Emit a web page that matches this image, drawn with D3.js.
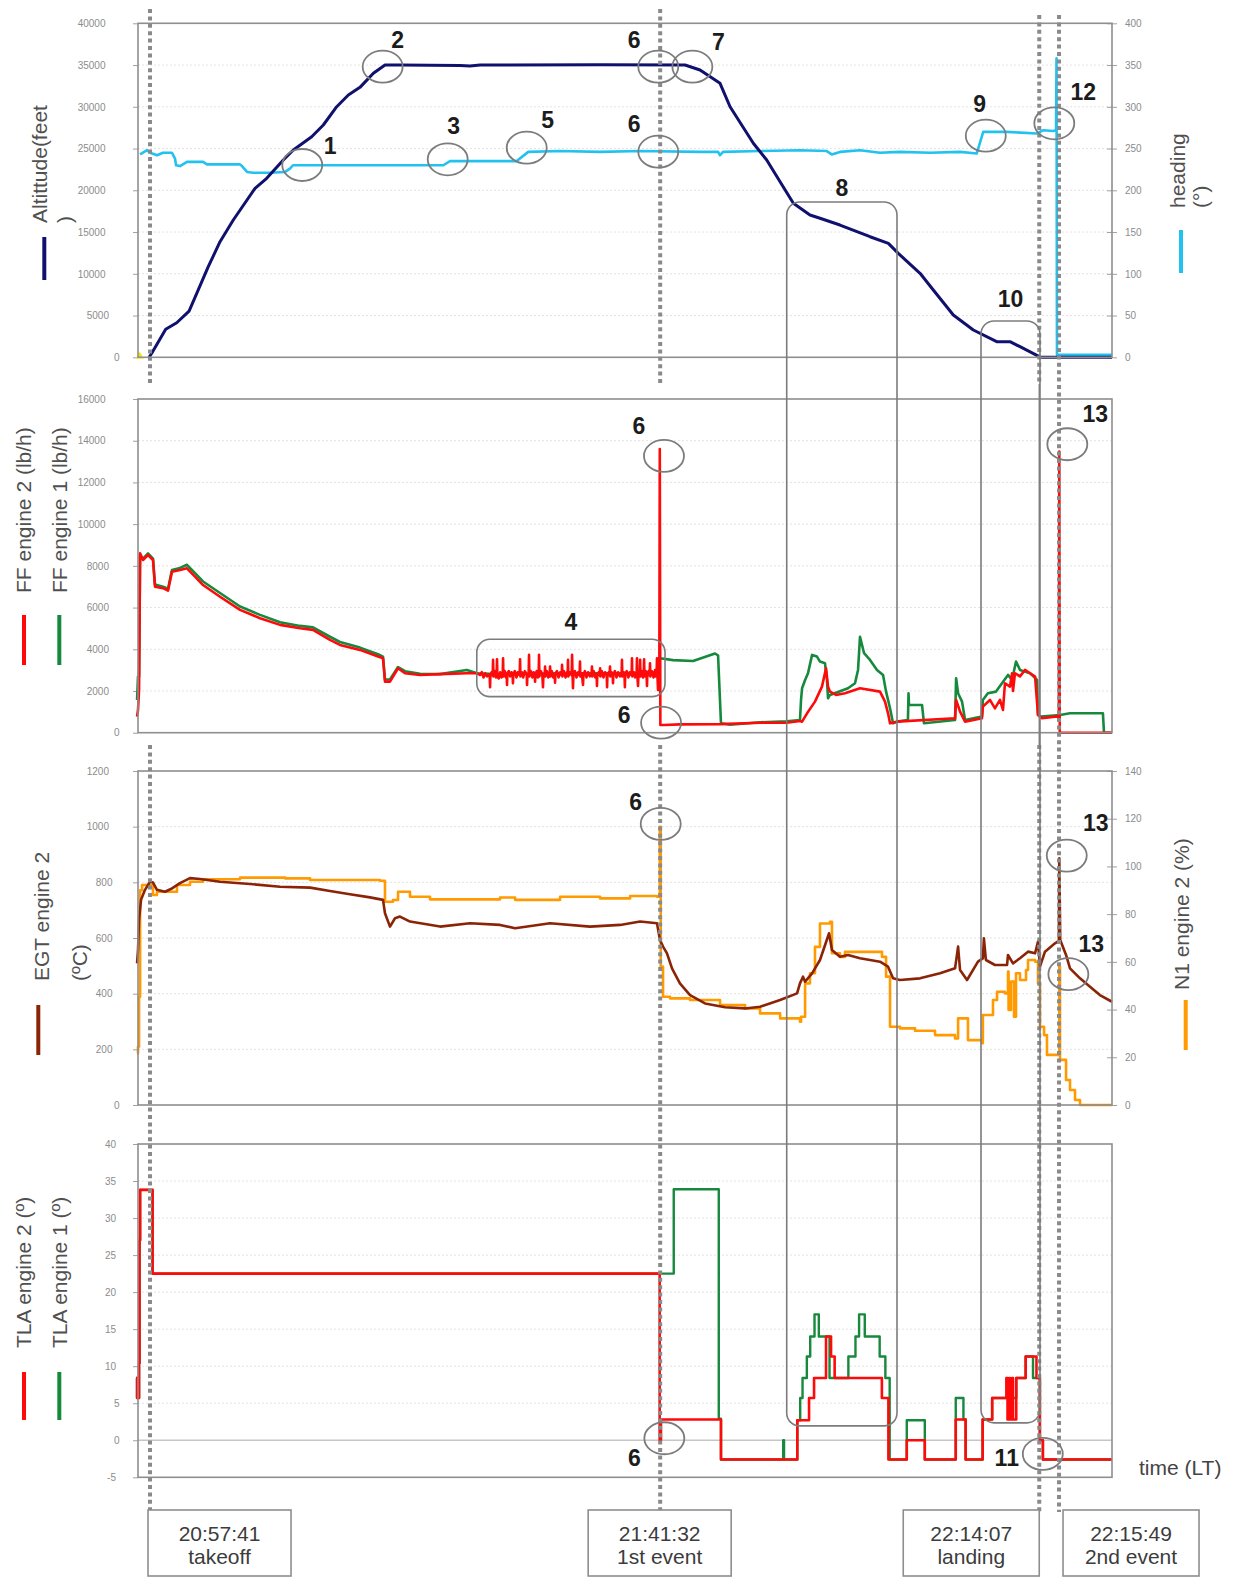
<!DOCTYPE html>
<html>
<head>
<meta charset="utf-8">
<script src="https://cdn.jsdelivr.net/npm/d3@7"></script>
<style>
  body { margin: 0; background: #fff; }
  svg { display: block; font-family: Arial, "Liberation Sans", sans-serif; }
</style>
</head>
<body>
<svg id="chart" width="1235" height="1578"></svg>
<script>
// time values are minutes after 20:56:00 (LT)

const events = [
  { time: "20:57:41", label: "takeoff", box: "left" },
  { time: "21:41:32", label: "1st event", box: "center" },
  { time: "22:14:07", label: "landing", box: "right" },
  { time: "22:15:49", label: "2nd event", box: "after" }
];

const timeDomain = [0.65, 84.37];

const altitudeTicks = [0, 5000, 10000, 15000, 20000, 25000, 30000, 35000, 40000];
const headingTicks = [0, 50, 100, 150, 200, 250, 300, 350, 400];
const ffTicks = [0, 2000, 4000, 6000, 8000, 10000, 12000, 14000, 16000];
const egtTicks = [0, 200, 400, 600, 800, 1000, 1200];
const n1Ticks = [0, 20, 40, 60, 80, 100, 120, 140];
const tlaTicks = [-5, 0, 5, 10, 15, 20, 25, 30, 35, 40];

// altitude (feet)
const altitudeFt = [
  [1.60, 0], [1.83, 480], [3.03, 3350], [3.98, 4140], [5.04, 5540], [5.70, 7660],
  [6.69, 10850], [7.70, 13840], [8.84, 16440], [10.71, 20240], [11.71, 21440],
  [13.14, 23630], [14.00, 24830], [15.58, 26420], [16.58, 27820], [17.73, 30010],
  [18.73, 31410], [19.73, 32330], [20.88, 34010], [21.88, 35010], [23.17, 35000],
  [28.33, 34950], [29.19, 34880], [30.05, 35000], [40.37, 35050], [47.67, 35000],
  [48.96, 34410], [50.68, 32810], [51.54, 30010], [53.54, 25630], [54.69, 23630],
  [55.84, 21030], [56.98, 18440], [58.41, 17040], [59.27, 16650], [60.99, 15840],
  [63.57, 14440], [65.15, 13650], [66.00, 12450], [67.87, 10060], [69.01, 8060],
  [70.73, 5070], [72.45, 3270], [74.46, 1870], [75.60, 1870], [76.46, 1270],
  [78.04, 150], [78.18, 0], [84.37, 0]
];

// heading (deg)
const headingDeg = [
  [0.83, 243], [1.43, 248], [1.68, 245], [2.28, 242], [2.80, 245], [3.57, 245],
  [3.83, 238], [3.92, 230], [4.26, 229], [4.86, 234], [6.24, 234], [6.58, 231],
  [9.42, 231], [9.59, 229], [10.02, 222], [10.54, 221], [12.00, 221], [13.29, 222],
  [13.71, 226], [13.97, 230], [26.89, 230], [27.47, 235], [33.20, 235], [34.20, 246],
  [36.93, 247], [40.37, 246], [43.81, 247], [48.96, 246], [50.51, 246], [50.68, 242],
  [50.93, 246], [54.12, 247], [57.55, 248], [59.85, 247], [60.28, 243], [60.99, 246],
  [62.71, 248], [64.43, 245], [66.15, 246], [68.73, 245], [71.31, 246], [72.74, 244],
  [73.30, 270], [75.32, 270], [77.90, 268], [78.47, 272], [79.32, 271], [79.56, 272],
  [79.60, 358], [79.64, 3], [84.37, 3]
];

// fuel flow engine 2 (lb/h)
const ffEngine2 = [
  [0.57, 770], [0.65, 1090], [0.74, 2050], [0.83, 8600], [1.08, 8280], [1.51, 8520],
  [1.94, 8280], [2.11, 7000], [2.80, 6930], [3.23, 6810], [3.57, 7720], [4.26, 7800],
  [4.86, 7880], [5.55, 7480], [6.24, 7080], [7.70, 6520], [9.42, 5890], [11.14, 5490],
  [12.86, 5170], [14.58, 5010], [15.69, 4930], [17.15, 4450], [18.01, 4210],
  [19.73, 3970], [21.28, 3650], [21.71, 3570], [21.88, 2450], [22.31, 2450],
  [23.00, 3090], [23.60, 2850], [24.89, 2770], [26.61, 2810], [28.91, 2850], [29.79, 2850],
  // fluctuating cruise segment (callout 4)
  [30.05, 2770], [30.20, 2900], [30.35, 2650], [30.50, 2850], [30.65, 2700], [30.88, 2800],
  [30.91, 2180], [30.94, 2750], [31.05, 2900], [31.14, 2750], [31.17, 3490], [31.20, 2700],
  [31.32, 2950], [31.42, 2650], [31.48, 2850], [31.51, 3520], [31.54, 2700], [31.66, 2600],
  [31.78, 2900], [31.90, 2650], [32.00, 2850], [32.03, 3570], [32.06, 2700], [32.18, 2950],
  [32.28, 2650], [32.34, 2800], [32.37, 2290], [32.40, 2850], [32.52, 2950], [32.64, 2700],
  [32.76, 2900], [32.85, 2700], [32.88, 2370], [32.91, 2800], [33.04, 2950], [33.18, 2650],
  [33.30, 2900], [33.46, 2750], [33.49, 3520], [33.52, 2700], [33.64, 2900], [33.76, 2650],
  [33.90, 2950], [34.06, 2800], [34.09, 2290], [34.12, 2750], [34.23, 2850], [34.26, 3730],
  [34.29, 2700], [34.42, 2950], [34.55, 2650], [34.66, 2900], [34.75, 2750], [34.78, 2450],
  [34.81, 2800], [34.92, 2950], [35.02, 2650], [35.09, 2850], [35.12, 3730], [35.15, 2700],
  [35.28, 2950], [35.40, 2800], [35.46, 2180], [35.50, 2800], [35.61, 2750], [35.64, 3170],
  [35.67, 2700], [35.80, 2950], [35.92, 2650], [36.04, 2850], [36.07, 3170], [36.10, 2700],
  [36.22, 2950], [36.34, 2650], [36.47, 2800], [36.50, 2400], [36.53, 2850], [36.66, 2950],
  [36.80, 2650], [36.94, 2900], [37.07, 2750], [37.10, 3250], [37.13, 2700], [37.26, 2950],
  [37.40, 2650], [37.52, 2900], [37.58, 2750], [37.61, 3490], [37.64, 2700], [37.76, 2900],
  [37.93, 2750], [37.96, 3730], [38.00, 2800], [38.04, 2130], [38.08, 2850], [38.20, 2950],
  [38.34, 2650], [38.48, 2900], [38.61, 2750], [38.64, 3410], [38.67, 2700], [38.80, 2850],
  [38.90, 2290], [38.94, 2800], [39.06, 2950], [39.20, 2650], [39.34, 2900], [39.50, 2700],
  [39.64, 2850], [39.67, 3170], [39.70, 2700], [39.82, 2950], [39.96, 2650], [40.07, 2800],
  [40.10, 2240], [40.13, 2800], [40.26, 2900], [40.34, 2750], [40.37, 3090], [40.40, 2700],
  [40.52, 2950], [40.66, 2650], [40.80, 2900], [40.94, 2750], [40.97, 2180], [41.00, 2800],
  [41.12, 2900], [41.19, 2750], [41.22, 3170], [41.25, 2700], [41.36, 2900], [41.45, 2700],
  [41.48, 2370], [41.51, 2800], [41.64, 2950], [41.78, 2650], [41.92, 2900], [42.08, 2700],
  [42.22, 2850], [42.25, 3490], [42.28, 2700], [42.40, 2900], [42.47, 2750], [42.50, 2180],
  [42.53, 2800], [42.66, 2950], [42.80, 2650], [42.94, 2900], [43.08, 2750], [43.11, 3570],
  [43.14, 2700], [43.26, 2900], [43.38, 2650], [43.51, 2850], [43.54, 3570], [43.57, 2750],
  [43.63, 2240], [43.67, 2800], [43.78, 2750], [43.81, 3490], [43.84, 2700], [43.96, 2950],
  [44.06, 2650], [44.12, 2850], [44.15, 3520], [44.18, 2700], [44.30, 2950], [44.37, 2700],
  [44.40, 2240], [44.43, 2800], [44.54, 2950], [44.63, 2750], [44.66, 3330], [44.69, 2700],
  [44.82, 2950], [44.96, 2650], [45.06, 2850], [45.09, 3000], [45.12, 2700], [45.23, 2900],
  [45.26, 3570], [45.30, 2700], [45.35, 2050], [45.40, 2750], [45.46, 2700],
  [45.50, 13600], [45.55, 370], [45.86, 370], [47.23, 400], [50.68, 410], [54.12, 480],
  [56.41, 480], [57.55, 560], [57.73, 530], [58.16, 930], [58.84, 1490], [59.44, 2210],
  [59.79, 3090], [59.96, 2210], [60.13, 1970], [60.65, 1810], [61.42, 1890], [62.71, 2130],
  [64.43, 1970], [64.86, 1490], [65.12, 930], [65.29, 450], [65.89, 530], [70.88, 690],
  [70.97, 1570], [71.31, 1010], [71.74, 530], [73.19, 690], [73.27, 1250], [73.88, 1570],
  [74.31, 1170], [74.74, 1570], [75.00, 1090], [75.17, 2370], [75.60, 2210], [75.78, 2850],
  [75.86, 2000], [76.03, 2850], [76.46, 2700], [76.89, 3010], [77.33, 2850], [77.76, 2690],
  [78.01, 850], [78.35, 690], [79.47, 770], [79.80, 770], [79.84, 13480], [79.88, 0],
  [84.37, 0]
];

// fuel flow engine 1 (lb/h)
const ffEngine1 = [
  [0.57, 1570], [0.65, 2690], [0.74, 2690], [0.83, 8500], [1.08, 8350], [1.51, 8600],
  [1.94, 8350], [2.11, 7100], [2.80, 7000], [3.23, 6900], [3.57, 7800], [4.26, 7900],
  [4.86, 8050], [5.55, 7650], [6.24, 7250], [7.70, 6700], [9.42, 6050], [11.14, 5650],
  [12.86, 5300], [14.58, 5120], [15.69, 5050], [17.15, 4600], [18.01, 4350], [19.73, 4080],
  [21.28, 3760], [21.71, 3650], [21.88, 2550], [22.31, 2550], [23.00, 3150], [23.60, 2950],
  [24.89, 2830], [26.61, 2810], [28.91, 3010], [29.79, 2850], [31.77, 2800], [36.93, 2850],
  [42.09, 2850], [45.26, 2900], [45.52, 3570], [46.64, 3480], [48.36, 3440], [50.25, 3800],
  [50.51, 3700], [50.76, 450], [51.54, 380], [54.12, 500], [56.41, 550], [57.55, 610],
  [57.64, 1570], [57.73, 2130], [57.99, 2530], [58.24, 2850], [58.59, 3730], [59.01, 3650],
  [59.27, 3410], [59.70, 3330], [59.87, 2530], [59.96, 1650], [60.13, 1810], [61.68, 2130],
  [62.28, 2370], [62.54, 3010], [62.71, 4600], [63.06, 3810], [63.57, 3490], [64.17, 3010],
  [64.69, 2770], [64.95, 1970], [65.29, 1170], [65.55, 450], [65.89, 530], [66.83, 610],
  [66.88, 1890], [66.92, 1330], [68.04, 1330], [68.21, 450], [70.88, 610], [70.97, 2610],
  [71.14, 1890], [71.48, 1490], [71.74, 610], [73.19, 770], [73.27, 1570], [73.70, 1890],
  [74.40, 1970], [75.43, 2770], [75.78, 2530], [76.12, 3410], [76.46, 3010], [77.33, 2850],
  [77.93, 2530], [78.01, 850], [78.27, 770], [79.90, 850], [80.76, 930], [83.59, 930],
  [83.68, 0], [84.37, 0]
];

// EGT engine 2 (degC)
const egtEngine2 = [
  [0.57, 509], [0.65, 557], [0.74, 665], [0.91, 737], [1.25, 773], [1.68, 802], [1.94, 799],
  [2.28, 773], [2.97, 766], [3.57, 778], [4.26, 797], [5.12, 815], [5.98, 812], [7.70, 802],
  [10.28, 794], [12.86, 784], [15.44, 781], [17.15, 769], [18.87, 757], [20.59, 746],
  [21.71, 737], [21.88, 689], [22.31, 641], [22.74, 671], [23.17, 677], [24.03, 659],
  [26.61, 641], [29.19, 653], [31.77, 647], [33.06, 635], [36.07, 653], [39.50, 641],
  [42.09, 647], [43.81, 659], [45.26, 653], [45.52, 593], [45.78, 569], [46.12, 545],
  [46.55, 491], [47.23, 437], [48.10, 395], [49.39, 365], [51.11, 351], [52.83, 347],
  [54.12, 353], [55.84, 377], [57.30, 401], [57.55, 437], [57.81, 461], [57.99, 443],
  [58.59, 473], [59.27, 521], [60.05, 617], [60.30, 557], [60.99, 533], [61.68, 539],
  [62.71, 527], [64.43, 515], [65.12, 497], [65.55, 455], [66.15, 449], [67.87, 455],
  [69.59, 473], [70.88, 491], [71.14, 569], [71.31, 485], [71.91, 449], [72.85, 515],
  [73.27, 527], [73.36, 599], [73.53, 521], [74.31, 503], [75.35, 503], [75.43, 539],
  [75.86, 509], [76.46, 527], [77.15, 551], [77.76, 545], [78.01, 587], [78.18, 497],
  [78.27, 509], [78.61, 551], [79.47, 581], [79.80, 590], [79.84, 886], [79.92, 593],
  [80.42, 539], [80.76, 491], [81.62, 455], [82.48, 425], [83.33, 395], [84.37, 371]
];

// N1 engine 2 (%)
const n1Engine2 = [
  [0.57, 21.7], [0.65, 24.4], [0.74, 45.4], [0.83, 90], [1.00, 92.2], [1.68, 92.2],
  [1.94, 88], [2.28, 89.4], [3.40, 89.4], [4.00, 92.2], [5.12, 93.6], [6.24, 94.6],
  [9.42, 95.3], [13.29, 95], [15.44, 94.3], [21.45, 94], [21.88, 85.2], [22.57, 85.9],
  [23.00, 89.4], [24.03, 87.3], [25.75, 86.2], [31.77, 87], [33.06, 86], [36.93, 87.3],
  [40.37, 86.6], [42.95, 87.6], [45.26, 87.3], [45.50, 116.6], [45.58, 58], [45.78, 45.4],
  [46.38, 44.7], [48.10, 44], [50.68, 41.9], [52.83, 40.5], [54.12, 38.4], [55.84, 36.3],
  [57.55, 34.9], [57.64, 37], [57.99, 51], [58.41, 55.2], [58.84, 66.3], [59.27, 76.1],
  [60.13, 76.8], [60.30, 63.6], [60.99, 62.1], [61.42, 64.2], [64.00, 64.2], [64.60, 62.1],
  [64.95, 53.8], [65.29, 32.8], [66.15, 32.1], [67.44, 31.1], [69.16, 29.3], [70.88, 27.9],
  [71.14, 36.3], [71.82, 36.3], [71.99, 27.2], [73.19, 25.9], [73.27, 37.7], [74.14, 44],
  [74.49, 47.5], [75.17, 46.8], [75.43, 55.9], [75.48, 39.8], [75.69, 51.7], [75.95, 37],
  [76.12, 55.2], [76.46, 52.4], [76.98, 56.6], [77.15, 60.8], [77.76, 60.1], [78.01, 51],
  [78.18, 32.8], [78.53, 29.3], [78.78, 21], [79.80, 21], [79.84, 58], [79.90, 18.9],
  [80.42, 10.5], [80.76, 6.3], [81.19, 2.1], [81.62, 0], [84.37, 0]
];

// throttle lever angle (deg), each value holds until the next time
const tlaEngine2 = [
  [0.48, 8.4], [0.57, 5.7], [0.74, 10.4], [0.78, 27], [0.83, 33.8], [1.90, 22.5],
  [45.49, 0], [45.60, 2.8], [50.76, -2.6], [57.32, 2.7], [58.33, 5.7], [58.76, 8.4],
  [59.79, 14.0], [60.22, 11.3], [60.53, 8.4], [64.59, 5.7], [65.15, -2.6], [66.73, 0],
  [68.28, -2.6], [70.94, 2.8], [71.79, -2.6], [73.25, 2.8], [74.07, 5.7], [75.29, 8.4],
  [75.39, 2.8], [75.52, 8.4], [75.60, 2.8], [75.78, 8.4], [75.86, 2.8], [76.14, 8.4],
  [76.95, 11.3], [77.88, 8.4], [78.17, 0], [78.43, -2.6], [84.37, -2.6]
];

const tlaEngine1 = [
  [0.48, 8.4], [0.57, 5.7], [0.74, 10.4], [0.78, 27], [0.83, 33.8], [1.90, 22.5],
  [46.70, 33.9], [50.57, 2.9], [50.76, -2.6], [56.11, 0], [56.18, -2.6], [57.32, 2.7],
  [57.57, 5.7], [57.77, 8.4], [58.14, 11.3], [58.43, 14.0], [58.80, 17.0], [59.17, 14.0],
  [60.09, 8.4], [61.71, 11.3], [62.32, 14.0], [62.63, 17.0], [63.12, 14.0], [64.40, 11.3],
  [64.89, 8.4], [65.26, -2.6], [66.73, 2.7], [68.28, -2.6], [70.94, 5.7], [71.60, 2.8],
  [71.79, -2.6], [73.25, 2.8], [74.07, 5.7], [76.14, 8.4], [76.95, 11.3], [77.58, 8.4],
  [78.17, 0], [78.43, -2.6], [84.37, -2.6]
];

// numbered callouts: panel, time, value on that panel's left axis
const callouts = [
  { n: "1", panel: 0, t: 14.77, v: 23030, dx: 28, dy: -19 },
  { n: "2", panel: 0, t: 21.68, v: 34800, dx: 15, dy: -27 },
  { n: "3", panel: 0, t: 27.27, v: 23710, dx: 6, dy: -33 },
  { n: "5", panel: 0, t: 34.06, v: 25100, dx: 21, dy: -28 },
  { n: "6", panel: 0, t: 45.37, v: 34800, dx: -24, dy: -27 },
  { n: "7", panel: 0, t: 48.30, v: 34800, dx: 26, dy: -25 },
  { n: "6", panel: 0, t: 45.37, v: 24620, dx: -24, dy: -28 },
  { n: "9", panel: 0, t: 73.52, v: 26540, dx: -6, dy: -32 },
  { n: "12", panel: 0, t: 79.41, v: 28020, dx: 29, dy: -31 },
  { n: "6", panel: 1, t: 45.86, v: 13270, dx: -25, dy: -30 },
  { n: "6", panel: 1, t: 45.61, v: 480, dx: -37, dy: -8 },
  { n: "13", panel: 1, t: 80.53, v: 13830, dx: 28, dy: -30 },
  { n: "6", panel: 2, t: 45.58, v: 1010, dx: -25, dy: -22 },
  { n: "13", panel: 2, t: 80.48, v: 896, dx: 29, dy: -33 },
  { n: "13", panel: 2, t: 80.62, v: 470, dx: 23, dy: -30 },
  { n: "6", panel: 3, t: 45.89, v: 0.27, dx: -30, dy: 20 },
  { n: "11", panel: 3, t: 78.42, v: -1.85, dx: -36, dy: 4 }
];

// boxed time windows: [panel, value] at top and bottom edge
const windows = [
  { n: "4", t0: 29.77, t1: 45.95, top: [1, 4480], bottom: [1, 1730], gap: 17 },
  { n: "8", t0: 56.41, t1: 65.89, top: [0, 18600], bottom: [3, 1.94], gap: 14 },
  { n: "10", t0: 73.11, t1: 78.18, top: [0, 4350], bottom: [3, 2.35], gap: 22 }
];


const svg = d3.select("#chart");
const plotLeft = 138;
const plotRight = 1112;
const grey = "#8e8e8e";

const x = d3.scaleLinear().domain(timeDomain).range([plotLeft, plotRight]);

function toMinutes(hms) {
  const [h, m, s] = hms.split(":").map(Number);
  return (h * 3600 + m * 60 + s - (20 * 3600 + 56 * 60)) / 60;
}

class Panel {

  constructor(top, bottom, ticks, ticks2) {
    this.top = top;
    this.bottom = bottom;
    this.ticks = ticks;
    this.ticks2 = ticks2;
    this.y = d3.scaleLinear().domain(d3.extent(ticks)).range([bottom, top]);
    this.y2 = ticks2 ?
      d3.scaleLinear().domain(d3.extent(ticks2)).range([bottom, top]) : null;
    this.g = svg.append("g");
    this.drawFrame();
    this.lines = this.g.append("g");
    this.border();
  }

  drawFrame() {
    const g = this.g;
    g.append("rect")
      .attr("x", plotLeft).attr("y", this.top)
      .attr("width", plotRight - plotLeft).attr("height", this.bottom - this.top)
      .attr("fill", "#fff");

    // horizontal grid lines
    g.selectAll(null).data(this.ticks.slice(1, -1)).join("line")
      .attr("x1", plotLeft).attr("x2", plotRight)
      .attr("y1", d => this.y(d)).attr("y2", d => this.y(d))
      .attr("stroke", d => d === 0 ? "#c6c6c6" : "#e3e3e3")
      .attr("stroke-width", d => d === 0 ? 1.5 : 1)
      .attr("stroke-dasharray", d => d === 0 ? null : "2,2");

    // left axis
    const left = g.append("g")
      .attr("transform", `translate(${plotLeft},0)`)
      .call(d3.axisLeft(this.y).tickValues(this.ticks).tickSize(5).tickFormat(d => d));
    this.styleAxis(left);
    left.selectAll("text")
      .attr("x", d => -(15 + 3.5 * String(d).length));

    // right axis
    if (this.y2) {
      const right = g.append("g")
        .attr("transform", `translate(${plotRight},0)`)
        .call(d3.axisRight(this.y2).tickValues(this.ticks2).tickSize(5)
          .tickPadding(8).tickFormat(d => d));
      this.styleAxis(right);
      right.selectAll("line").attr("x1", -5);
    }
  }

  styleAxis(axis) {
    axis.attr("font-family", null).attr("font-size", null);
    axis.select(".domain").remove();
    axis.selectAll("line").attr("stroke", "#a0a0a0");
    axis.selectAll("text").attr("fill", "#8c8c8c").style("font-size", "10px");
  }

  border() {
    this.g.append("rect")
      .attr("x", plotLeft).attr("y", this.top)
      .attr("width", plotRight - plotLeft).attr("height", this.bottom - this.top)
      .attr("fill", "none").attr("stroke", grey).attr("stroke-width", 1.6);
  }

  series(data, color, width, right = false, curve = d3.curveLinear) {
    const yScale = right ? this.y2 : this.y;
    const line = d3.line()
      .x(d => x(d[0]))
      .y(d => yScale(d[1]))
      .curve(curve);
    this.lines.append("path")
      .datum(data)
      .attr("d", line)
      .attr("fill", "none")
      .attr("stroke", color)
      .attr("stroke-width", width)
      .attr("stroke-linejoin", "round");
  }
}

// panels
const pAlt = new Panel(23.3, 357.3, altitudeTicks, headingTicks);
const pFF = new Panel(399, 732.7, ffTicks);
const pEGT = new Panel(771, 1105, egtTicks, n1Ticks);
const pTLA = new Panel(1144, 1477.3, tlaTicks);
const panels = [pAlt, pFF, pEGT, pTLA];

pAlt.series(headingDeg, "#22c2f0", 2.6, true);
pAlt.series(altitudeFt, "#10106e", 3);
pAlt.lines.append("path")
  .attr("d", d3.symbol(d3.symbolTriangle).size(28)())
  .attr("transform", `translate(${x(0.80)},${pAlt.y(0) - 1})`)
  .attr("fill", "#f5e400");

pFF.series(ffEngine1, "#17893d", 2.6);
pFF.series(ffEngine2, "#ff0a0a", 2.6);

pEGT.series(n1Engine2, "#ff9a00", 2.6, true, d3.curveStepAfter);
pEGT.series(egtEngine2, "#8b2406", 2.6);

pTLA.series(tlaEngine1, "#17893d", 2.4, false, d3.curveStepAfter);
pTLA.series(tlaEngine2, "#ff0a0a", 2.6, false, d3.curveStepAfter);

// event lines
const eventSegments = [
  [[9, 384], [745, 1510]],
  [[9, 384], [745, 1510]],
  [[15, 384], [745, 1512]],
  [[15, 1512]]
];
const overlay = svg.append("g");

events.forEach((e, i) => {
  const ex = x(toMinutes(e.time));
  eventSegments[i].forEach(([y0, y1]) => {
    overlay.append("line")
      .attr("x1", ex).attr("x2", ex).attr("y1", y0).attr("y2", y1)
      .attr("stroke", "#8a8a8a").attr("stroke-width", 4)
      .attr("stroke-dasharray", "4,3.4");
  });
  if (e.label === "landing") {
    overlay.append("line")
      .attr("x1", ex).attr("x2", ex).attr("y1", 384).attr("y2", 745)
      .attr("stroke", "#8a8a8a").attr("stroke-width", 1.5);
  }
});

// boxed windows
windows.forEach(w => {
  const x0 = x(w.t0), x1 = x(w.t1);
  const y0 = panels[w.top[0]].y(w.top[1]);
  const y1 = panels[w.bottom[0]].y(w.bottom[1]);
  overlay.append("rect")
    .attr("x", x0).attr("y", y0).attr("width", x1 - x0).attr("height", y1 - y0)
    .attr("rx", 13).attr("ry", 13)
    .attr("fill", "none").attr("stroke", "#7c7c7c").attr("stroke-width", 1.6);
  overlay.append("text")
    .attr("x", (x0 + x1) / 2).attr("y", y0 - w.gap)
    .attr("text-anchor", "middle").attr("dominant-baseline", "central")
    .attr("font-size", 23).attr("font-weight", "bold").attr("fill", "#1c1c1c")
    .text(w.n);
});

// circled callouts
callouts.forEach(c => {
  const cx = x(c.t), cy = panels[c.panel].y(c.v);
  overlay.append("ellipse")
    .attr("cx", cx).attr("cy", cy).attr("rx", 20).attr("ry", 16)
    .attr("fill", "none").attr("stroke", "#7c7c7c").attr("stroke-width", 1.8);
  overlay.append("text")
    .attr("x", cx + c.dx).attr("y", cy + c.dy)
    .attr("text-anchor", "middle").attr("dominant-baseline", "central")
    .attr("font-size", 23).attr("font-weight", "bold").attr("fill", "#1c1c1c")
    .text(c.n);
});

// time label boxes under the chart
events.forEach(e => {
  const ex = x(toMinutes(e.time));
  let bx = ex - 2;
  if (e.box === "center") bx = ex - 72;
  if (e.box === "right") bx = ex - 136;
  if (e.box === "after") bx = ex + 4;
  const bw = (e.box === "right" || e.box === "after") ? 136 : 143;
  const g = overlay.append("g");
  g.append("rect")
    .attr("x", bx).attr("y", 1510).attr("width", bw).attr("height", 66)
    .attr("fill", "#fff").attr("stroke", grey).attr("stroke-width", 1.6);
  g.append("text")
    .attr("x", bx + bw / 2).attr("y", 1541)
    .attr("text-anchor", "middle").attr("font-size", 21).attr("fill", "#3c3c3c")
    .text(e.time);
  g.append("text")
    .attr("x", bx + bw / 2).attr("y", 1564)
    .attr("text-anchor", "middle").attr("font-size", 21).attr("fill", "#3c3c3c")
    .text(e.label);
});

overlay.append("text")
  .attr("x", 1139).attr("y", 1475)
  .attr("font-size", 21).attr("fill", "#444")
  .text("time (LT)");

// rotated axis titles and their legend bars
function vTitle(tx, ty, str) {
  svg.append("text")
    .attr("transform", `translate(${tx},${ty}) rotate(-90)`)
    .attr("font-size", 21).attr("fill", "#505050")
    .text(str);
}
function legendBar(lx, y0, y1, color) {
  svg.append("line")
    .attr("x1", lx).attr("x2", lx).attr("y1", y0).attr("y2", y1)
    .attr("stroke", color).attr("stroke-width", 4);
}

vTitle(47, 223, "Altittude(feet");
vTitle(72, 223, ")");
legendBar(44.3, 237, 280, "#10106e");
vTitle(1185, 208, "heading");
vTitle(1208, 208, "(°)");
legendBar(1181, 230, 273, "#22c2f0");

vTitle(30.5, 593, "FF engine 2 (lb/h)");
vTitle(67, 593, "FF engine 1 (lb/h)");
legendBar(24, 615, 665, "#ff0a0a");
legendBar(59.3, 615, 665, "#17893d");

vTitle(48.5, 981, "EGT engine 2");
vTitle(87, 981, "(ºC)");
legendBar(38.3, 1005, 1055, "#8b2406");
vTitle(1188.5, 990, "N1 engine 2 (%)");
legendBar(1185.7, 1000, 1050, "#ff9a00");

vTitle(30.5, 1348, "TLA engine 2 (º)");
vTitle(67, 1348, "TLA engine 1 (º)");
legendBar(24, 1372, 1420, "#ff0a0a");
legendBar(59.3, 1372, 1420, "#17893d");
</script>
</body>
</html>
